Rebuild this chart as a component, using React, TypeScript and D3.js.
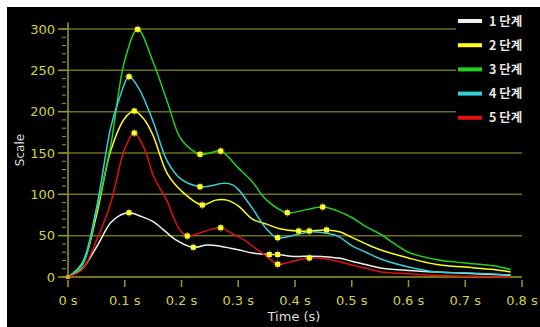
import React from "react";
import * as d3 from "d3";

const W = 540;
const H = 327;

const seriesNames = ["1 단계", "2 단계", "3 단계", "4 단계", "5 단계"];
const seriesColors = ["#f0f0f0", "#ffff1a", "#1ed21e", "#33d0d8", "#e01010"];

// [time (s), scale]
const stage1: [number, number][] = [
  [0, 0], [0.025, 10], [0.05, 36], [0.075, 65.5], [0.09, 74], [0.1075, 77.8], [0.13, 73],
  [0.15, 67], [0.17, 56], [0.19, 45], [0.2208, 35.9], [0.245, 38.7], [0.27, 37], [0.3, 33],
  [0.325, 29], [0.3547, 27.2], [0.3695, 27.2], [0.4, 24.8], [0.43, 25.2], [0.48, 22.6],
  [0.5, 19], [0.525, 15], [0.55, 11], [0.6, 8], [0.65, 6], [0.7, 4.5], [0.75, 3], [0.78, 2],
];
const stage2: [number, number][] = [
  [0, 0], [0.025, 15], [0.05, 74], [0.075, 152], [0.1, 192], [0.1168, 200.8], [0.135, 190],
  [0.15, 171], [0.175, 125], [0.2, 104], [0.2367, 87.1], [0.26, 93], [0.28, 93], [0.3, 86],
  [0.325, 70], [0.35, 64], [0.375, 58], [0.4065, 55.6], [0.4252, 55.6], [0.4555, 56.9],
  [0.48, 54.5], [0.5, 48], [0.525, 40], [0.55, 33], [0.6, 23], [0.65, 15], [0.7, 12],
  [0.75, 9], [0.78, 6],
];
const stage3: [number, number][] = [
  [0, 0], [0.025, 14], [0.05, 79], [0.075, 158], [0.1, 262], [0.1228, 299.6], [0.15, 260],
  [0.175, 212], [0.2, 166], [0.2326, 148.4], [0.25, 150], [0.2691, 152.4], [0.3, 132],
  [0.325, 115], [0.35, 93], [0.3864, 77.8], [0.42, 81.5], [0.4488, 84.7], [0.475, 80],
  [0.5, 72], [0.525, 61], [0.55, 52], [0.6, 30], [0.65, 21], [0.7, 17], [0.75, 13.5], [0.78, 9],
];
const stage4: [number, number][] = [
  [0, 0], [0.025, 17], [0.05, 83], [0.075, 180], [0.09, 215], [0.1075, 242.3], [0.125, 228],
  [0.15, 188], [0.175, 140], [0.2, 118], [0.2326, 109.2], [0.25, 110], [0.275, 113.3],
  [0.29, 111.5], [0.3, 106], [0.325, 83], [0.35, 58], [0.3695, 47.5], [0.4, 50.8],
  [0.425, 54.5], [0.45, 53.5], [0.475, 49.5], [0.5, 38], [0.525, 30], [0.55, 22], [0.6, 12],
  [0.65, 6], [0.7, 5], [0.75, 3.5], [0.78, 2.5],
];
const stage5: [number, number][] = [
  [0, 0], [0.025, 9], [0.05, 44], [0.075, 89], [0.1, 155], [0.1168, 174.2], [0.13, 162],
  [0.14, 145], [0.15, 123], [0.163, 106], [0.174, 93], [0.1855, 73], [0.197, 57],
  [0.2102, 49.6], [0.24, 55], [0.2691, 59.6], [0.29, 52], [0.31, 45], [0.33, 35], [0.35, 25],
  [0.3695, 15.4], [0.39, 18], [0.4252, 23], [0.45, 22.5], [0.475, 19], [0.5, 14.5],
  [0.525, 10.5], [0.55, 6.4], [0.6, 4], [0.65, 2], [0.7, 1], [0.75, 0.5], [0.78, 0],
];
const seriesData = [stage1, stage2, stage3, stage4, stage5];

const markers1: [number, number][] = [[0.1075, 77.8], [0.2208, 35.9], [0.3547, 27.2], [0.3695, 27.2]];
const markers2: [number, number][] = [[0.1168, 200.8], [0.2367, 87.1], [0.4065, 55.6], [0.4252, 55.6], [0.4555, 56.9]];
const markers3: [number, number][] = [[0.1228, 299.6], [0.2326, 148.4], [0.2691, 152.4], [0.3864, 77.8], [0.4488, 84.7]];
const markers4: [number, number][] = [[0.1075, 242.3], [0.2326, 109.2], [0.3695, 47.5]];
const markers5: [number, number][] = [[0.1168, 174.2], [0.2102, 49.6], [0.2691, 59.6], [0.3695, 15.4], [0.4252, 23]];
const markerSets = [markers1, markers2, markers3, markers4, markers5];

const yTicks = [0, 50, 100, 150, 200, 250, 300];
const yMinorTicks = d3.range(0, 301, 10);
const xTicks = [0, 0.1, 0.2, 0.3, 0.4, 0.5, 0.6, 0.7, 0.8];
const xTickLabels = ["0 s", "0.1 s", "0.2 s", "0.3 s", "0.4 s", "0.5 s", "0.6 s", "0.7 s", "0.8 s"];

export default function App() {
  const x = d3.scaleLinear().domain([0, 0.8]).range([68, 522]);
  const y = d3.scaleLinear().domain([0, 300]).range([277, 29]);
  const line = d3
    .line<[number, number]>()
    .x((d) => x(d[0]))
    .y((d) => y(d[1]))
    .curve(d3.curveCatmullRom.alpha(0.5));

  const axisColor = "#9a9a22";
  const gridColor = "#6e6e1c";
  const labelColor = "#d4d43a";
  const font = "DejaVu Sans, Verdana, sans-serif";

  return (
    <svg
      width={W}
      height={H}
      style={{ position: "absolute", left: 0, top: 0, display: "block" }}
    >
      <rect x={0} y={0} width={W} height={H} fill="#ffffff" />
      <rect x={7} y={7} width={W - 7} height={H - 7} fill="#000000" />

      {/* grid */}
      {yTicks.filter((t) => t > 0).map((t) => (
        <line key={"g" + t} x1={x(0)} x2={x(0.8)} y1={y(t)} y2={y(t)} stroke={gridColor} strokeWidth={1.5} />
      ))}

      {/* y axis */}
      <line x1={x(0)} x2={x(0)} y1={y(0)} y2={y(308)} stroke={axisColor} strokeWidth={1.5} />
      {yMinorTicks.map((t) => (
        <line key={"m" + t} x1={x(0) - 6} x2={x(0) - 2} y1={y(t)} y2={y(t)} stroke={axisColor} strokeWidth={1} />
      ))}
      {yTicks.map((t) => (
        <g key={"yt" + t}>
          <line x1={x(0) - 10} x2={x(0)} y1={y(t)} y2={y(t)} stroke={axisColor} strokeWidth={1.5} />
          <text x={x(0) - 13} y={y(t)} dy="0.36em" textAnchor="end" fill={labelColor} fontSize={13} fontFamily={font}>
            {t}
          </text>
        </g>
      ))}

      {/* x axis */}
      <line x1={x(0)} x2={x(0.8)} y1={y(0)} y2={y(0)} stroke={axisColor} strokeWidth={1.5} />
      {xTicks.map((t, i) => (
        <g key={"xt" + t}>
          <line x1={x(t)} x2={x(t)} y1={y(0) + 3} y2={y(0) + 10} stroke={axisColor} strokeWidth={1.5} />
          <text x={x(t)} y={305} textAnchor="middle" fill={labelColor} fontSize={13} fontFamily={font}>
            {xTickLabels[i]}
          </text>
        </g>
      ))}

      <text x={294} y={321} textAnchor="middle" fill="#dddddd" fontSize={13} fontFamily={font}>
        Time (s)
      </text>
      <text
        transform="translate(24,150) rotate(-90)"
        textAnchor="middle"
        fill="#dddddd"
        fontSize={12}
        fontFamily={font}
      >
        Scale
      </text>

      {/* series */}
      {seriesData.map((d, i) => (
        <path key={"s" + i} d={line(d) || ""} fill="none" stroke={seriesColors[i]} strokeWidth={1.5} />
      ))}

      {/* markers */}
      {markerSets.map((ms, i) =>
        ms.map((m, j) => (
          <g key={"mk" + i + "-" + j} transform={`translate(${x(m[0])},${y(m[1])})`}>
            <line x1={-4} x2={4} y1={0} y2={0} stroke="#cccc00" strokeWidth={1} opacity={0.7} />
            <line x1={0} x2={0} y1={-4} y2={4} stroke="#cccc00" strokeWidth={1} opacity={0.7} />
            <rect x={-2.5} y={-2.5} width={5} height={5} fill="#ffff30" />
          </g>
        ))
      )}
      <rect x={x(0) - 2} y={y(0) - 2} width={4} height={4} fill="#e0a020" />

      {/* legend */}
      <rect x={456} y={8} width={84} height={122} fill="#000000" />
      {seriesNames.map((n, i) => {
        const ly = 21 + i * 24.2;
        return (
          <g key={"lg" + i}>
            <rect x={458} y={ly - 2} width={24} height={4} fill={seriesColors[i]} />
            <text
              x={489}
              y={ly}
              dy="0.36em"
              fill="#e8e8e8"
              fontSize={12.5}
              fontWeight="bold"
              fontFamily="Noto Sans CJK KR, DejaVu Sans, sans-serif"
            >
              {n}
            </text>
          </g>
        );
      })}
    </svg>
  );
}
